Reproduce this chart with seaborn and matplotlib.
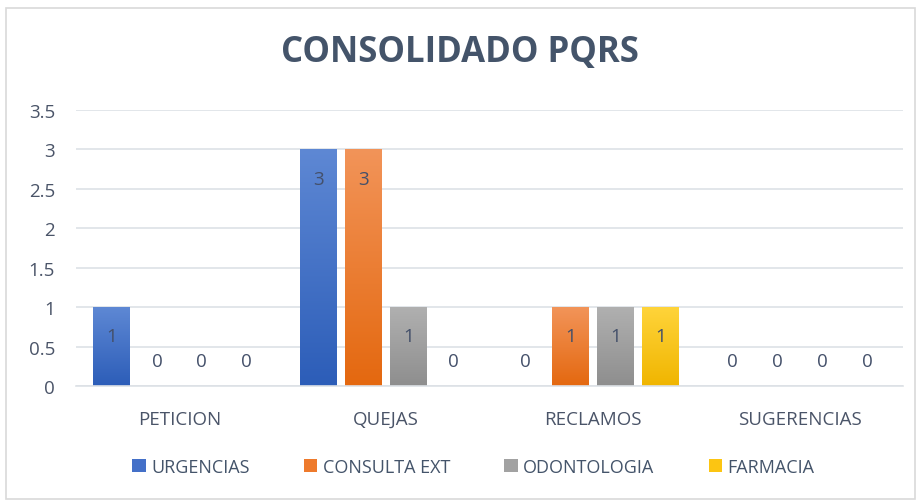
import matplotlib
matplotlib.use("Agg")
import matplotlib.pyplot as plt
import seaborn as sns
import pandas as pd
import numpy as np
from matplotlib import font_manager
from matplotlib.patches import Rectangle
from matplotlib.colors import LinearSegmentedColormap

categories = ["PETICION", "QUEJAS", "RECLAMOS", "SUGERENCIAS"]
series = ["URGENCIAS", "CONSULTA EXT", "ODONTOLOGIA", "FARMACIA"]
urgencias = [1, 3, 0, 0]
consulta_ext = [0, 3, 1, 0]
odontologia = [0, 1, 1, 0]
farmacia = [0, 0, 1, 0]
colors = ["#4470C8", "#EE7A2C", "#A2A2A2", "#FCC512"]
grad_top = ["#5E88D4", "#F29459", "#B0B0B0", "#FFD43A"]
grad_bot = ["#2C5DB8", "#E4680F", "#8E8E8E", "#F0B500"]
yticks = [0, 0.5, 1, 1.5, 2, 2.5, 3, 3.5]
ytick_labels = ["0", "0.5", "1", "1.5", "2", "2.5", "3", "3.5"]

rows = []
for s, vals in zip(series, [urgencias, consulta_ext, odontologia, farmacia]):
    for c, v in zip(categories, vals):
        rows.append({"cat": c, "serie": s, "val": v})
df = pd.DataFrame(rows)

sns.set_theme(style="white")
avail = {f.name for f in font_manager.fontManager.ttflist}
fam = "Liberation Sans Narrow" if "Liberation Sans Narrow" in avail else "Open Sans"
plt.rcParams["font.family"] = [fam, "DejaVu Sans"]

fig = plt.figure(figsize=(9.19, 5.02), dpi=100)
fig.patches.append(Rectangle((0.006, 0.004), 0.99, 0.978, transform=fig.transFigure,
                             fill=False, edgecolor="#D9D9D9", linewidth=1.2))
ax = fig.add_axes([76 / 919, 1 - 387 / 502, 827 / 919, 276 / 502])

sns.barplot(data=df, x="cat", y="val", hue="serie", order=categories,
            hue_order=series, palette=colors, width=0.87, gap=0.18,
            saturation=1, linewidth=0, ax=ax, legend=True)

ax.set_ylim(0, 3.5)
ax.set_yticks(yticks)
ax.set_yticklabels(ytick_labels)
ax.yaxis.grid(True, color="#DDE1E6", linewidth=1.2)
ax.set_axisbelow(True)
for sp in ["left", "right", "top"]:
    ax.spines[sp].set_visible(False)
ax.spines["bottom"].set_color("#DDE1E6")
ax.spines["bottom"].set_linewidth(1.2)
ax.tick_params(axis="both", length=0, labelsize=13.5, colors="#4A5468")
ax.tick_params(axis="x", pad=17)
ax.tick_params(axis="y", pad=15)
ax.set_xlabel("")
ax.set_ylabel("")
xlim = ax.get_xlim()

# gradient fill on each bar
for i, cont in enumerate(ax.containers):
    cmap = LinearSegmentedColormap.from_list(f"g{i}", [grad_bot[i], grad_top[i]])
    grad = np.linspace(0, 1, 256).reshape(-1, 1)
    for patch in cont:
        h = patch.get_height()
        x0 = patch.get_x()
        w = patch.get_width()
        if h > 0:
            im = ax.imshow(grad, cmap=cmap, origin="lower", aspect="auto",
                           extent=(x0, x0 + w, 0, h), zorder=patch.get_zorder() + 0.1)
            im.set_clip_path(patch)
        xc = x0 + w / 2
        if h > 0:
            ax.annotate(f"{h:g}", (xc, h), xytext=(0, -21), textcoords="offset points",
                        ha="center", va="center", fontsize=13.5, color="#44506A",
                        zorder=10)
        else:
            ax.annotate("0", (xc, 0), xytext=(0, 18), textcoords="offset points",
                        ha="center", va="center", fontsize=13.5, color="#44506A",
                        zorder=10)
ax.set_xlim(xlim)
ax.set_ylim(0, 3.5)

fig.text(0.5, 0.895, "CONSOLIDADO PQRS", ha="center", va="center",
         fontsize=25, fontweight="bold", color="#44546A")

handles, labels = ax.get_legend_handles_labels()
ax.legend_.remove()
fig.legend(handles, labels, loc="center", bbox_to_anchor=(0.515, 0.068), ncol=4,
           frameon=False, fontsize=13, handlelength=0.75, handleheight=0.75,
           handletextpad=0.3, columnspacing=3.0, labelcolor="#44546A")

fig.savefig("out.png", dpi=100)
